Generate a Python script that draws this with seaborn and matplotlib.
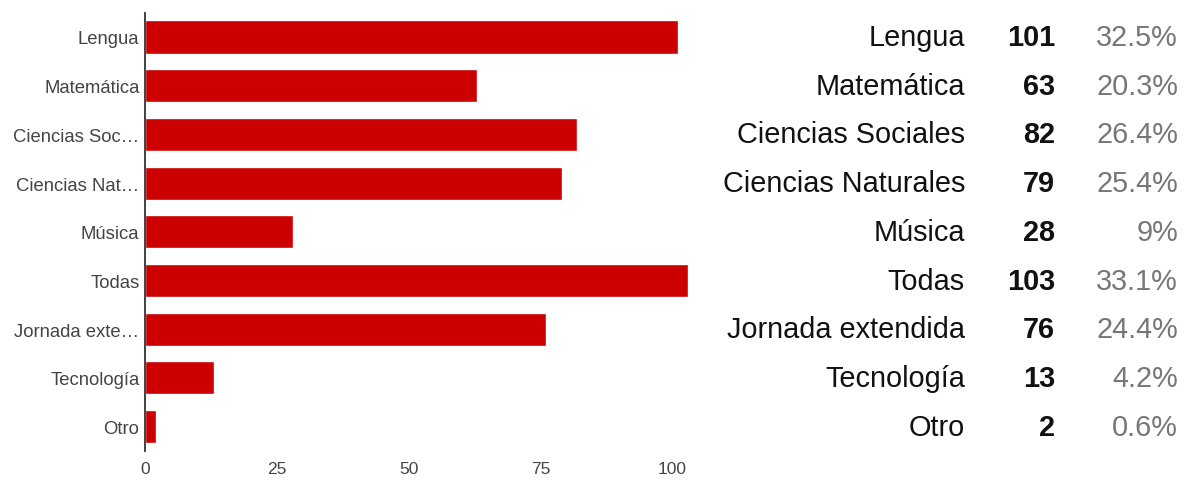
import pandas as pd
import matplotlib
matplotlib.use('Agg')
import matplotlib.pyplot as plt
import matplotlib.transforms as mtransforms
import seaborn as sns

# chart data
categories = ['Lengua', 'Matemática', 'Ciencias Sociales', 'Ciencias Naturales',
              'Música', 'Todas', 'Jornada extendida', 'Tecnología', 'Otro']
short_labels = ['Lengua', 'Matemática', 'Ciencias Soc…', 'Ciencias Nat…',
                'Música', 'Todas', 'Jornada exte…', 'Tecnología', 'Otro']
counts = [101, 63, 82, 79, 28, 103, 76, 13, 2]
percents = ['32.5%', '20.3%', '26.4%', '25.4%', '9%', '33.1%', '24.4%', '4.2%', '0.6%']
x_ticks = [0, 25, 50, 75, 100]

df = pd.DataFrame({'Materia': short_labels, 'Cantidad': counts})

sns.set_style('white')
plt.rcParams['font.family'] = ['Liberation Sans', 'DejaVu Sans']

fig = plt.figure(figsize=(11.9, 4.81), dpi=100)
ax = fig.add_axes([145 / 1190, 1 - 452 / 481, 550 / 1190, (452 - 13.6) / 481])

sns.barplot(data=df, x='Cantidad', y='Materia', color='#cc0000', saturation=1,
            width=0.68, ax=ax)
ax.set_xlim(0, 104.3)
ax.set_ylim(8.5, -0.5)
ax.set_xticks(x_ticks)
ax.set_xlabel('')
ax.set_ylabel('')
ax.tick_params(axis='both', length=0, labelcolor='#444444')
ax.tick_params(axis='x', labelsize=12.5, pad=7)
ax.tick_params(axis='y', labelsize=13.3, pad=4)
for side in ['top', 'right', 'bottom']:
    ax.spines[side].set_visible(False)
ax.spines['left'].set_color('#333333')
ax.spines['left'].set_linewidth(1.3)

# table on the right
tab = fig.add_axes([0.59, 1 - 452 / 481, 0.41, (452 - 13.6) / 481])
tab.set_ylim(8.5, -0.5)
tab.set_xlim(0, 1)
tab.axis('off')
trans = mtransforms.blended_transform_factory(fig.transFigure, tab.transData)
for i, (name, n, p) in enumerate(zip(categories, counts, percents)):
    tab.text(965 / 1190, i, name, transform=trans,
             ha='right', va='center', fontsize=20.8, color='#111111')
    tab.text(1055 / 1190, i, str(n), transform=trans,
             ha='right', va='center', fontsize=20.8, fontweight='bold', color='#111111')
    tab.text(1178 / 1190, i, p, transform=trans,
             ha='right', va='center', fontsize=20.8, color='#777777')

fig.savefig('out.png', dpi=100)
